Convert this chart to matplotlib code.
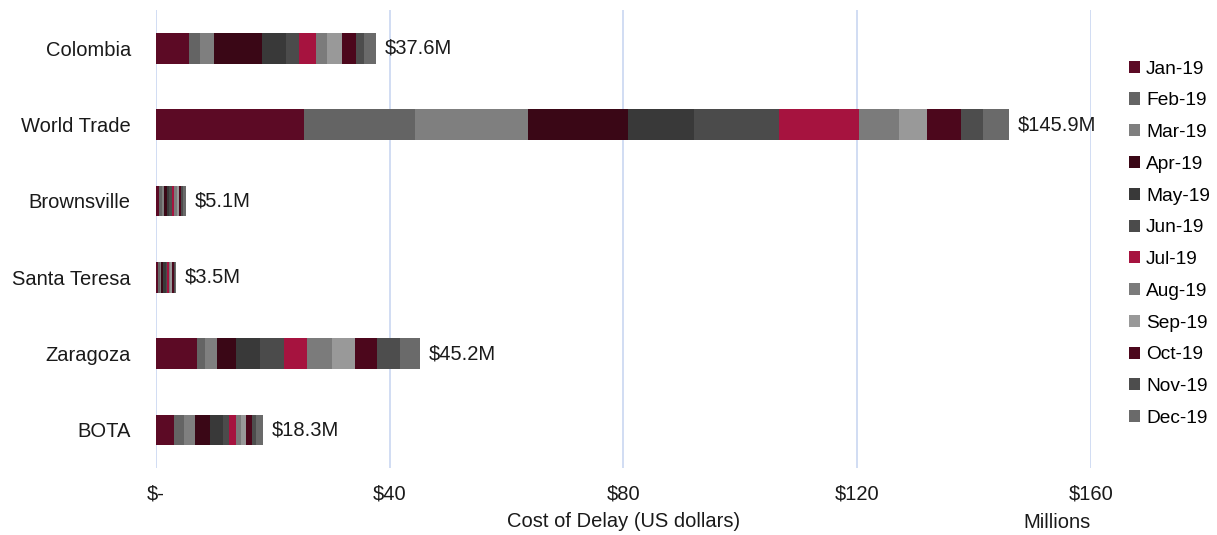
import numpy as np
import matplotlib.pyplot as plt

plt.rcParams['font.family'] = ['Liberation Sans', 'DejaVu Sans']

# ports, top to bottom
ports = ['Colombia', 'World Trade', 'Brownsville', 'Santa Teresa', 'Zaragoza', 'BOTA']
months = ['Jan-19', 'Feb-19', 'Mar-19', 'Apr-19', 'May-19', 'Jun-19',
          'Jul-19', 'Aug-19', 'Sep-19', 'Oct-19', 'Nov-19', 'Dec-19']

# monthly cost of delay, millions of US dollars
colombia = [5.7, 1.8, 2.5, 8.2, 4.0, 2.3, 2.9, 1.9, 2.6, 2.3, 1.4, 2.0]
world_trade = [25.3, 19.1, 19.2, 17.2, 11.2, 14.6, 13.7, 6.9, 4.8, 5.8, 3.7, 4.4]
brownsville = [0.6, 0.4, 0.4, 0.5, 0.4, 0.4, 0.5, 0.4, 0.3, 0.4, 0.3, 0.5]
santa_teresa = [0.4, 0.3, 0.2, 0.4, 0.4, 0.3, 0.2, 0.3, 0.3, 0.3, 0.2, 0.2]
zaragoza = [7.1, 1.3, 2.1, 3.3, 4.1, 4.0, 4.0, 4.3, 3.9, 3.8, 3.9, 3.4]
bota = [3.1, 1.7, 1.9, 2.6, 2.2, 1.0, 1.2, 0.8, 1.0, 0.9, 0.7, 1.2]

colors = ['#5C0A25', '#646464', '#7F7F7F', '#3A0716', '#393939', '#4B4B4B',
          '#A6133F', '#7B7B7B', '#999999', '#4C071C', '#4D4D4D', '#6A6A6A']

data = np.array([colombia, world_trade, brownsville, santa_teresa, zaragoza, bota])

fs = 14.5
fig = plt.figure(figsize=(12.17, 5.35), dpi=100)
ax = fig.add_axes([0.128, 0.125, 0.7685, 0.856])

y = np.arange(len(ports))
left = np.zeros(len(ports))
for i, m in enumerate(months):
    ax.barh(y, data[:, i], left=left, height=0.4, color=colors[i], label=m, zorder=3)
    left += data[:, i]

# totals at the end of each bar
for yi, tot in zip(y, left):
    ax.text(tot + 1.5, yi, f'${tot:.1f}M', va='center', ha='left', fontsize=fs, color='#1a1a1a')

ax.set_xlim(0, 160)
ax.set_ylim(len(ports) - 0.5, -0.5)
ax.set_xticks([0, 40, 80, 120, 160])
ax.set_xticklabels(['$-', '$40', '$80', '$120', '$160'])
ax.set_yticks(y)
ax.set_yticklabels(ports)
ax.tick_params(axis='both', length=0, labelsize=fs, colors='#1a1a1a')
ax.tick_params(axis='x', pad=12)
ax.tick_params(axis='y', pad=18)
ax.grid(axis='x', color='#C9D7F1', linewidth=1.2, zorder=0)
for s in ax.spines.values():
    s.set_visible(False)

ax.set_xlabel('Cost of Delay (US dollars)', fontsize=fs, color='#1a1a1a', labelpad=6)
fig.text(0.8965, 0.024, 'Millions', ha='right', va='center', fontsize=fs, color='#1a1a1a')

ax.legend(loc='center left', bbox_to_anchor=(1.022, 0.49), frameon=False, fontsize=13.8,
          handlelength=0.6, handleheight=0.6, handletextpad=0.3, labelspacing=0.77)

fig.savefig('out.png', dpi=100)
